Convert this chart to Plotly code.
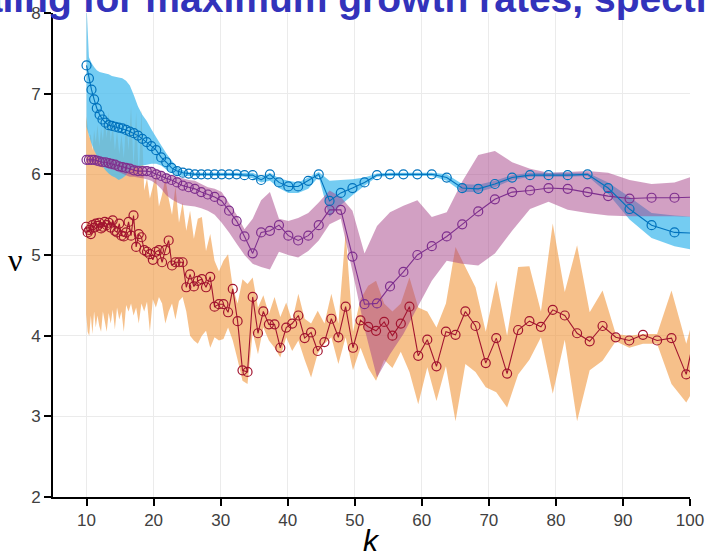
import plotly.graph_objects as go

# ---- grid of k for the blue / purple runs ----
k_bp = [10.00, 10.36, 10.74, 11.13, 11.53, 11.95, 12.38, 12.83, 13.30, 13.78,
        14.28, 14.80, 15.33, 15.89, 16.46, 17.06, 17.68, 18.32, 18.98, 19.67,
        20.39, 21.13, 21.89, 22.68, 23.51, 24.36, 25.24, 26.16, 27.11, 28.09,
        29.11, 30.16, 31.26, 32.39, 33.56, 34.78, 36.04, 37.35, 38.70, 40.10,
        41.56, 43.07, 44.63, 46.24, 47.92, 49.66, 51.46, 53.32, 55.26, 57.26,
        59.34, 61.49, 63.72, 66.03, 68.42, 70.90, 73.47, 76.14, 78.90, 81.76,
        84.72, 87.79, 90.98, 94.27, 97.69, 101.23]

nu_blue = [7.35, 7.19, 7.05, 6.93, 6.82, 6.74, 6.68, 6.64, 6.61, 6.60,
           6.59, 6.58, 6.57, 6.55, 6.53, 6.51, 6.48, 6.44, 6.40, 6.35,
           6.30, 6.21, 6.15, 6.08, 6.04, 6.02, 6.01, 6.00, 6.00, 6.00,
           6.00, 6.00, 6.00, 6.00, 5.99, 5.99, 5.93, 6.00, 5.90, 5.85,
           5.85, 5.92, 6.00, 5.67, 5.77, 5.83, 5.90, 5.99, 6.00, 6.00,
           6.00, 6.00, 5.96, 5.83, 5.82, 5.88, 5.96, 5.99, 5.99, 5.99,
           6.00, 5.83, 5.57, 5.37, 5.28, 5.27]
blue_hi = [8.10, 7.45, 7.38, 7.33, 7.29, 7.27, 7.26, 7.25, 7.24, 7.22,
           7.21, 7.20, 7.19, 7.16, 7.10, 6.98, 6.84, 6.74, 6.66, 6.56,
           6.46, 6.36, 6.26, 6.17, 6.09, 6.05, 6.03, 6.02, 6.02, 6.02,
           6.02, 6.02, 6.02, 6.02, 6.02, 6.02, 5.97, 6.02, 5.95, 5.92,
           5.90, 5.96, 6.03, 5.92, 5.93, 5.94, 5.96, 6.01, 6.02, 6.02,
           6.02, 6.02, 6.00, 5.88, 5.87, 5.92, 5.99, 6.02, 6.02, 6.02,
           6.02, 5.90, 5.72, 5.52, 5.49, 5.47]
blue_lo = [6.59, 6.48, 6.38, 6.30, 6.23, 6.17, 6.10, 6.05, 6.01, 5.98,
           5.96, 5.93, 5.95, 5.99, 6.06, 6.08, 6.10, 6.11, 6.12, 6.13,
           6.13, 6.11, 6.06, 6.02, 5.99, 5.98, 5.98, 5.98, 5.98, 5.98,
           5.98, 5.98, 5.98, 5.98, 5.97, 5.95, 5.90, 5.92, 5.83, 5.77,
           5.77, 5.82, 5.97, 5.47, 5.62, 5.74, 5.86, 5.97, 5.98, 5.98,
           5.98, 5.98, 5.92, 5.78, 5.78, 5.84, 5.93, 5.97, 5.97, 5.97,
           5.98, 5.76, 5.44, 5.21, 5.11, 5.05]

nu_purple = [6.18, 6.18, 6.18, 6.18, 6.17, 6.16, 6.15, 6.15, 6.14, 6.13,
             6.12, 6.10, 6.09, 6.08, 6.07, 6.05, 6.04, 6.04, 6.04, 6.03,
             6.00, 5.98, 5.95, 5.93, 5.90, 5.86, 5.84, 5.82, 5.78, 5.75,
             5.72, 5.67, 5.55, 5.42, 5.23, 5.02, 5.28, 5.30, 5.37, 5.24,
             5.18, 5.24, 5.37, 5.56, 5.56, 4.98, 4.39, 4.40, 4.61, 4.79,
             5.00, 5.11, 5.23, 5.38, 5.54, 5.69, 5.78, 5.80, 5.83, 5.82,
             5.78, 5.73, 5.70, 5.71, 5.71, 5.72]
purple_hi = [6.21, 6.21, 6.21, 6.21, 6.21, 6.20, 6.20, 6.19, 6.19, 6.18,
             6.17, 6.16, 6.15, 6.14, 6.13, 6.12, 6.11, 6.10, 6.10, 6.09,
             6.07, 6.04, 6.01, 5.99, 5.97, 5.95, 5.93, 5.92, 5.88, 5.84,
             5.82, 5.78, 5.64, 5.50, 5.32, 5.45, 5.68, 5.78, 5.45, 5.42,
             5.46, 5.52, 5.65, 5.80, 5.72, 5.55, 5.02, 5.36, 5.53, 5.61,
             5.68, 5.47, 5.53, 5.91, 6.24, 6.29, 6.15, 6.07, 6.02, 6.03,
             6.04, 6.02, 5.93, 5.88, 5.90, 6.00]
purple_lo = [6.15, 6.15, 6.15, 6.14, 6.13, 6.11, 6.10, 6.09, 6.07, 6.06,
             6.05, 6.03, 6.01, 5.99, 5.97, 5.97, 5.96, 5.95, 5.94, 5.92,
             5.88, 5.82, 5.74, 5.69, 5.65, 5.62, 5.61, 5.60, 5.58, 5.55,
             5.50, 5.40, 5.28, 5.14, 5.00, 4.89, 4.85, 4.82, 5.04, 5.00,
             4.97, 5.05, 5.18, 5.38, 5.45, 4.80, 4.09, 3.48, 3.77, 4.02,
             4.35, 4.68, 4.93, 4.89, 4.87, 5.02, 5.30, 5.57, 5.66, 5.56,
             5.52, 5.49, 5.48, 5.48, 5.48, 5.47]

# ---- finer grid of k for the red run ----
k_red = [9.95, 10.17, 10.40, 10.64, 10.88, 11.13, 11.38, 11.63, 11.90, 12.17,
         12.44, 12.72, 13.01, 13.30, 13.61, 13.91, 14.23, 14.55, 14.88, 15.21,
         15.56, 15.91, 16.27, 16.64, 17.01, 17.40, 17.79, 18.19, 18.60, 19.02,
         19.45, 19.89, 20.34, 20.80, 21.27, 21.75, 22.25, 22.75, 23.26, 23.79,
         24.33, 24.88, 25.44, 26.01, 26.60, 27.20, 27.82, 28.45, 29.09, 29.75,
         30.42, 31.11, 31.81, 32.53, 33.26, 34.01, 34.78, 35.57, 36.37, 37.20,
         38.04, 38.90, 39.78, 40.67, 41.59, 42.53, 43.49, 44.48, 45.48, 46.51,
         47.56, 48.64, 49.74, 50.86, 52.01, 53.18, 54.39, 55.62, 56.87, 58.16,
         59.47, 60.82, 62.19, 63.60, 65.03, 66.50, 68.01, 69.54, 71.11, 72.72,
         74.37, 76.05, 77.77, 79.53, 81.32, 83.16, 85.04, 86.96, 88.93, 90.94,
         92.99, 95.09, 97.24, 99.44, 101.69]
nu_red = [5.35, 5.28, 5.31, 5.26, 5.37, 5.34, 5.39, 5.36, 5.40, 5.33,
          5.35, 5.41, 5.37, 5.40, 5.34, 5.43, 5.30, 5.28, 5.39, 5.24,
          5.23, 5.28, 5.41, 5.24, 5.49, 5.10, 5.26, 5.22, 5.06, 5.04,
          5.01, 4.94, 5.04, 5.06, 4.91, 5.06, 5.18, 4.87, 4.91, 4.91,
          4.91, 4.60, 4.76, 4.61, 4.68, 4.70, 4.60, 4.73, 4.36, 4.39,
          4.39, 4.29, 4.58, 4.18, 3.57, 3.55, 4.48, 4.03, 4.30, 4.14,
          4.14, 3.85, 4.10, 4.15, 4.25, 3.97, 4.04, 3.81, 3.92, 4.21,
          3.98, 4.36, 3.85, 4.19, 4.11, 4.06, 4.17, 4.00, 4.15, 4.36,
          3.75, 3.95, 3.62, 4.05, 4.01, 4.30, 4.12, 3.66, 3.97, 3.53,
          4.07, 4.18, 4.11, 4.32, 4.25, 4.03, 3.93, 4.12, 3.98, 3.94,
          4.01, 3.94, 3.97, 3.52, 4.40]
red_hi = [6.72, 6.60, 6.45, 6.50, 6.30, 6.55, 6.40, 6.62, 6.35, 6.58,
          6.42, 6.70, 6.45, 6.78, 6.40, 6.62, 6.30, 6.55, 6.25, 6.50,
          6.20, 6.68, 6.30, 6.85, 6.10, 6.78, 5.95, 6.80, 5.80, 5.95,
          5.70, 5.85, 5.98, 5.60, 5.75, 5.95, 5.70, 5.50, 5.85, 5.40,
          5.65, 5.30, 5.55, 5.20, 5.45, 5.47, 5.05, 5.26, 4.93, 4.80,
          4.93, 5.01, 4.60, 4.40, 4.70, 4.64, 4.72, 4.35, 4.50, 4.27,
          4.48, 4.23, 4.41, 4.18, 4.52, 4.21, 4.15, 4.31, 4.15, 4.52,
          4.15, 5.28, 4.05, 4.45, 4.62, 4.68, 4.40, 4.30, 4.40, 4.72,
          4.35, 4.30, 4.10, 4.40, 5.10, 4.85, 4.60, 4.05, 4.68, 4.00,
          4.85, 4.86, 4.30, 5.39, 4.54, 5.12, 4.29, 4.56, 4.02, 4.00,
          4.02, 4.02, 4.56, 3.90, 4.60]
red_lo = [4.27, 4.05, 4.00, 4.25, 4.02, 4.30, 4.10, 4.25, 4.12, 4.05,
          4.30, 4.18, 4.05, 4.28, 4.15, 4.32, 4.08, 4.35, 4.20, 4.30,
          4.05, 4.38, 4.30, 4.40, 4.25, 4.35, 4.15, 4.40, 4.30, 4.42,
          4.05, 4.45, 4.35, 4.48, 4.40, 4.15, 4.30, 4.40, 4.20, 4.43,
          4.48, 4.30, 4.00, 3.94, 3.90, 4.00, 4.06, 3.85, 3.98, 3.94,
          3.96, 4.10, 3.94, 3.70, 3.44, 3.40, 4.04, 3.77, 4.10, 3.94,
          3.85, 3.73, 3.98, 3.81, 3.94, 3.70, 3.48, 3.78, 3.90, 3.98,
          3.65, 3.98, 3.57, 3.85, 3.60, 3.44, 3.70, 3.60, 3.80, 3.55,
          3.15, 3.61, 3.19, 3.62, 2.94, 3.65, 3.55, 3.36, 3.30, 3.11,
          3.52, 3.70, 3.98, 3.28, 3.95, 2.94, 3.57, 3.69, 3.93, 3.85,
          3.90, 3.90, 3.40, 3.17, 3.50]

x_ticks = [10, 20, 30, 40, 50, 60, 70, 80, 90, 100]
y_ticks = [2, 3, 4, 5, 6, 7, 8]

BLUE, PURPLE, RED = "#0072BD", "#7E2F8E", "#A2142F"
BLUE_FILL = "rgba(77,190,238,0.78)"
ORANGE_FILL = "rgba(240,150,60,0.6)"
PURPLE_FILL = "rgba(165,65,135,0.5)"


def band(k, hi, lo, color):
    return go.Scatter(x=list(k) + list(k)[::-1], y=list(hi) + list(lo)[::-1],
                      fill="toself", fillcolor=color, mode="none",
                      hoverinfo="skip", showlegend=False)


def run(k, nu, color):
    return go.Scatter(x=k, y=nu, mode="lines+markers",
                      line=dict(color=color, width=1.1),
                      marker=dict(symbol="circle-open", size=9, color=color,
                                  line=dict(width=1.2)),
                      showlegend=False)


fig = go.Figure()
fig.add_trace(band(k_red, red_hi, red_lo, ORANGE_FILL))
fig.add_trace(band(k_bp, blue_hi, blue_lo, BLUE_FILL))
fig.add_trace(band(k_bp, purple_hi, purple_lo, PURPLE_FILL))
fig.add_trace(run(k_red, nu_red, RED))
fig.add_trace(run(k_bp, nu_purple, PURPLE))
fig.add_trace(run(k_bp, nu_blue, BLUE))

axis_common = dict(showline=True, linecolor="black", linewidth=2,
                   ticks="outside", ticklen=7, tickwidth=2, tickcolor="black",
                   showgrid=True, gridcolor="#ebebeb", gridwidth=1,
                   zeroline=False, mirror=False, automargin=False,
                   tickfont=dict(family="Liberation Sans, Arial", size=17, color="#404040"))

fig.update_xaxes(range=[5, 100], tickvals=x_ticks, **axis_common)
fig.update_yaxes(range=[2, 8], tickvals=y_ticks, **axis_common)

fig.update_layout(
    width=705, height=555,
    margin=dict(l=53, r=15, t=13, b=58, autoexpand=False),
    paper_bgcolor="white", plot_bgcolor="white",
    annotations=[
        dict(text="<b>Scaling for maximum growth rates, spectral radius</b>",
             xref="paper", yref="paper", x=-0.1915, y=1.029,
             xanchor="left", yanchor="middle", showarrow=False,
             font=dict(family="Liberation Sans, Arial", size=39, color="#3333BB")),
        dict(text="ν", xref="paper", yref="paper", x=-0.045, y=0.49,
             xanchor="right", yanchor="middle", showarrow=False,
             font=dict(family="Liberation Serif, Times New Roman", size=32, color="black")),
        dict(text="<i>k</i>", xref="paper", yref="paper", x=0.5, y=-0.089,
             xanchor="center", yanchor="middle", showarrow=False,
             font=dict(family="Liberation Sans, Arial", size=30, color="black")),
    ],
)

fig.write_html("out.html")
